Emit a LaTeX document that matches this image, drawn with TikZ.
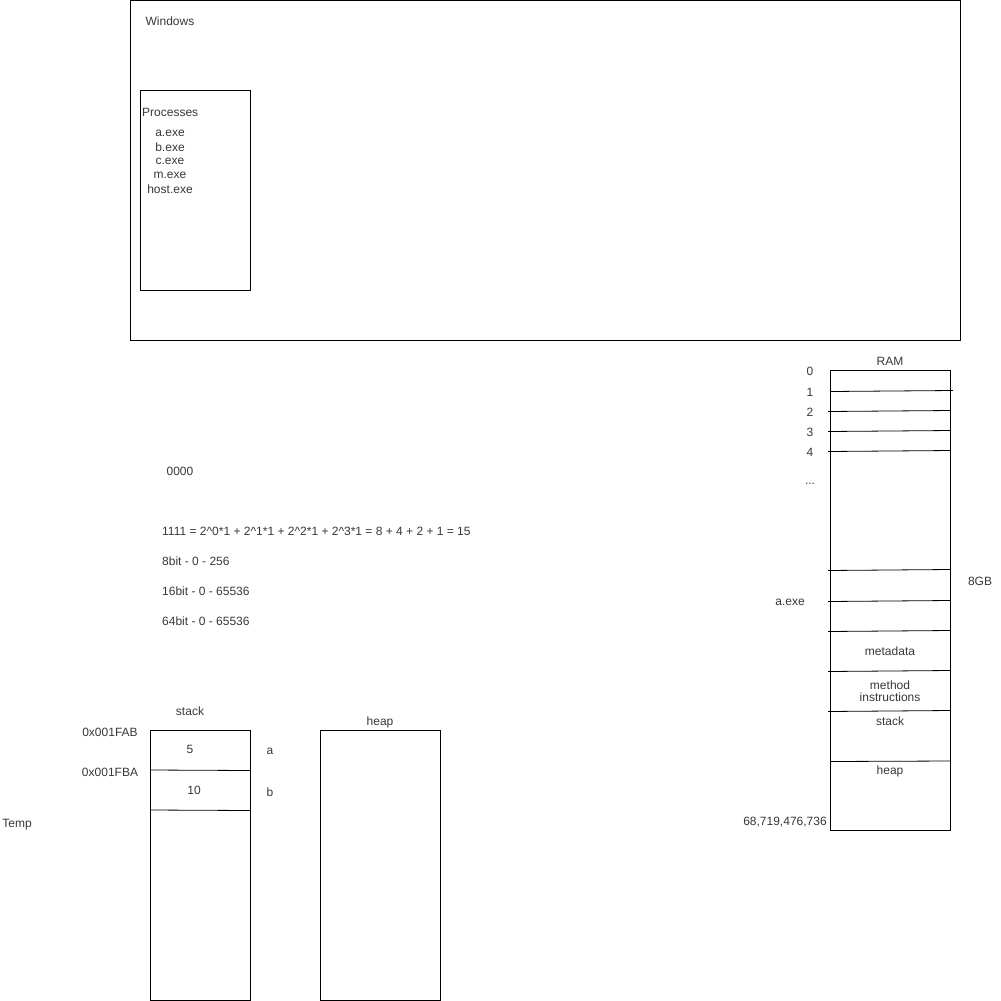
\documentclass[tikz,border=0pt]{standalone}
\usepackage{fontspec}
\setmainfont{Liberation Sans}
\begin{document}
\begin{tikzpicture}[x=1pt,y=-1pt,
  box/.style={draw=black,line width=0.8pt,fill=none,inner sep=0pt,rectangle},
  txt/.style={font=\fontsize{12}{14}\selectfont,text=black!78,inner sep=0pt,align=center,yshift=-1pt},
  sep/.style={draw=black,line width=0.8pt}]
\useasboundingbox[fill=white] (0,0) rectangle (1001,1001);
% Windows
\draw[box] (130.5,0.5) rectangle (960.5,340.5);
\node[txt] (win) at (170,20) {Windows};
\draw[box] (140.5,90.5) rectangle (250.5,290.5);
\node[txt,anchor=west] (proc) at (142,111) {Processes};
\node[txt] (pa) at (170,132) {a.exe};
\node[txt] (pb) at (170,146) {b.exe};
\node[txt] (pc) at (170,160) {c.exe};
\node[txt] (pm) at (170,174) {m.exe};
\node[txt] (ph) at (170,188) {host.exe};
% RAM
\draw[box] (830.5,370.5) rectangle (950.5,830.5);
\node[txt] (ram) at (890,360) {RAM};
\node[txt] (r0) at (810,370) {0};
\node[txt] (r1) at (810,391) {1};
\node[txt] (r2) at (810,411) {2};
\node[txt] (r3) at (810,431) {3};
\node[txt] (r4) at (810,451) {4};
\node[txt] (rd) at (810,483) {...};
\coordinate (l1a) at (830,391.5); \coordinate (l1b) at (953,390.5);
\coordinate (l2a) at (828,411.5); \coordinate (l2b) at (951,410.5);
\coordinate (l3a) at (828,431.5); \coordinate (l3b) at (951,430.5);
\coordinate (l4a) at (828,451.5); \coordinate (l4b) at (951,450.5);
\coordinate (l5a) at (828,570.5); \coordinate (l5b) at (950,569.5);
\coordinate (l6a) at (828,601.5); \coordinate (l6b) at (950,600.5);
\coordinate (l7a) at (828,631.5); \coordinate (l7b) at (950,630.5);
\coordinate (l8a) at (828,671.5); \coordinate (l8b) at (950,670.5);
\coordinate (l9a) at (828,711.5); \coordinate (l9b) at (950,710.5);
\coordinate (l10a) at (830,761.5); \coordinate (l10b) at (951,761);
\foreach \i in {1,...,10} {\draw[sep] (l\i a) -- (l\i b);}
\node[txt] (gb) at (980,580) {8GB};
\node[txt] (ae) at (790,601) {a.exe};
\node[txt] (meta) at (890,650) {metadata};
\node[txt,align=center] (meth) at (890,690) {method\\[-2pt]instructions};
\node[txt] (rstack) at (890,720) {stack};
\node[txt] (rheap) at (890,770) {heap};
\node[txt] (big) at (785,821) {68,719,476,736};
% numbers
\node[txt] (z) at (180,470) {0000};
\node[txt,anchor=west] (f) at (162,530) {1111 = 2\^{}0*1 + 2\^{}1*1 + 2\^{}2*1 + 2\^{}3*1 = 8 + 4 + 2 + 1 = 15};
\node[txt,anchor=west] (b8) at (162,560) {8bit - 0 - 256};
\node[txt,anchor=west] (b16) at (162,590) {16bit - 0 - 65536};
\node[txt,anchor=west] (b64) at (162,620) {64bit - 0 - 65536};
% stack
\draw[box] (150.5,730.5) rectangle (250.5,1000.5);
\node[txt] (st) at (190,710) {stack};
\coordinate (s1a) at (150,770); \coordinate (s1b) at (250,770.5);
\coordinate (s2a) at (150,810); \coordinate (s2b) at (250,810.5);
\draw[sep] (s1a) -- (s1b);
\draw[sep] (s2a) -- (s2b);
\node[txt] (v5) at (190,748) {5};
\node[txt] (v10) at (194,789) {10};
\node[txt] (va) at (270,750) {a};
\node[txt] (vb) at (270,791) {b};
\node[txt] (ad1) at (110,731) {0x001FAB};
\node[txt] (ad2) at (110,771) {0x001FBA};
\node[txt] (tmp) at (17,824) {Temp};
% heap
\draw[box] (320.5,730.5) rectangle (440.5,1000.5);
\node[txt] (hp) at (380,721) {heap};
\end{tikzpicture}
\end{document}
